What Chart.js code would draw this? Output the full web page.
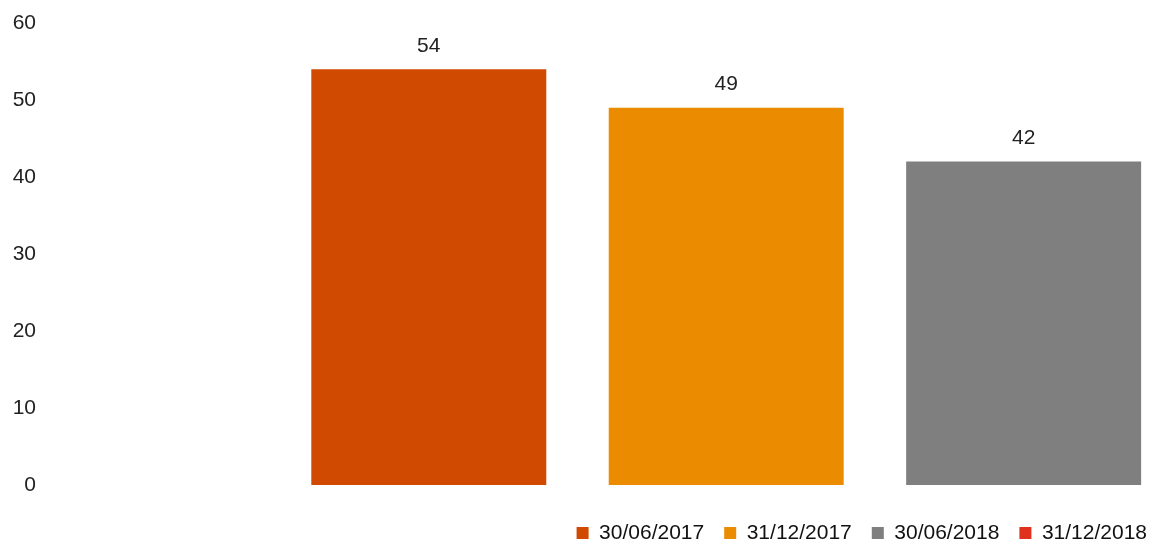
<!DOCTYPE html>
<html>
<head>
<meta charset="utf-8">
<script src="https://cdn.jsdelivr.net/npm/chart.js@4"></script>
<style>
  html, body { margin: 0; padding: 0; background: #fff; }
  #wrap { width: 1149px; height: 545px; }
</style>
</head>
<body>
<div id="wrap"><canvas id="myChart"></canvas></div>
<script>
'use strict';
//--------------------DATA

const categories = [''];
const seriesLabels = ['30/06/2017', '31/12/2017', '30/06/2018', '31/12/2018'];
const seriesValues = [54, 49, 42, null];
const seriesColors = ['#D04A02', '#EB8C00', '#7F7F7F', '#E0301E'];
const yTicks = [0, 10, 20, 30, 40, 50, 60];

// the empty series takes the first slot in the group
const slotOrder = [3, 0, 1, 2];

//--------------------PLUGINS

// value labels above bars
const valueLabels = {
  id: 'valueLabels',
  afterDatasetsDraw(chart) {
    const ctx = chart.ctx;
    ctx.save();
    ctx.font = '21px "Liberation Sans", Arial, sans-serif';
    ctx.fillStyle = '#222';
    ctx.textAlign = 'center';
    ctx.textBaseline = 'middle';
    chart.data.datasets.forEach((ds, i) => {
      chart.getDatasetMeta(i).data.forEach((bar, j) => {
        if (ds.data[j] === null) return;
        ctx.fillText(ds.data[j], bar.x, bar.y - 23);
      });
    });
    ctx.restore();
  }
};

//--------------------CHART

const datasets = slotOrder.map(i => ({
  label: seriesLabels[i],
  seriesIndex: i,
  data: [seriesValues[i]],
  backgroundColor: seriesColors[i],
  borderWidth: 0,
  clip: false,
  categoryPercentage: 1.1067,
  barPercentage: 0.79,
}));

new Chart(document.getElementById('myChart'), {
  type: 'bar',
  data: { labels: categories, datasets: datasets },
  plugins: [valueLabels],
  options: {
    responsive: true,
    maintainAspectRatio: false,
    animation: false,
    layout: { padding: { top: 23, right: -18, bottom: -8.5, left: 0 } },
    plugins: {
      tooltip: { enabled: false },
      legend: {
        position: 'bottom',
        align: 'end',
        labels: {
          boxWidth: 12,
          boxHeight: 12,
          padding: 20,
          color: '#111',
          font: { family: '"Liberation Sans", Arial, sans-serif', size: 21 },
          sort: (a, b, data) => data.datasets[a.datasetIndex].seriesIndex - data.datasets[b.datasetIndex].seriesIndex,
        }
      }
    },
    scales: {
      x: {
        display: true,
        grid: { display: false, drawTicks: false },
        border: { display: false },
        ticks: { display: false },
        afterFit: s => { s.height = 17.5; }
      },
      y: {
        min: 0,
        max: 60,
        afterBuildTicks: s => { s.ticks = yTicks.map(v => ({ value: v })); },
        grid: { display: false, drawTicks: false },
        border: { display: false },
        ticks: {
          padding: 4,
          color: '#222',
          font: { family: '"Liberation Sans", Arial, sans-serif', size: 21 }
        },
        afterFit: s => { s.width = 40; }
      },
      yRight: {
        position: 'right',
        display: true,
        grid: { display: false, drawTicks: false },
        border: { display: false },
        ticks: { display: false },
        afterFit: s => { s.width = 52; }
      }
    }
  }
});
</script>
</body>
</html>
